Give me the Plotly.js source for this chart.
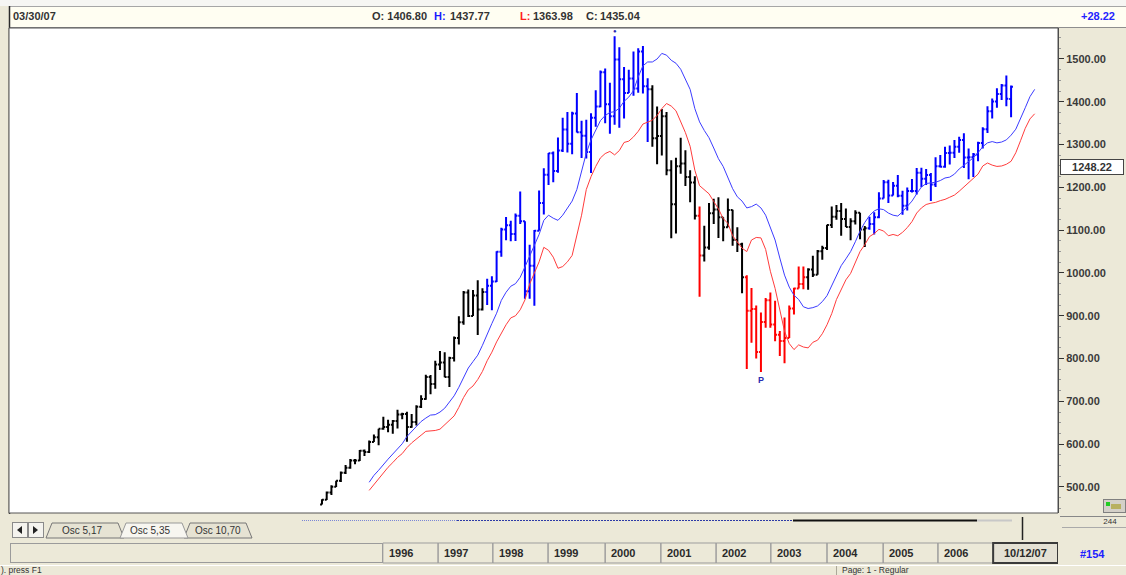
<!DOCTYPE html>
<html>
<head>
<meta charset="utf-8">
<script src="https://cdn.plot.ly/plotly-3.0.1.min.js"></script>
<style>
html,body{margin:0;padding:0;background:#ECE9D8;overflow:hidden;}
#wrap{position:relative;width:1126px;height:575px;overflow:hidden;background:#ECE9D8;}
#chrome{position:absolute;left:0;top:0;z-index:1;}
#chart{position:absolute;left:0;top:0;width:1126px;height:575px;z-index:2;}
</style>
</head>
<body>
<div id="wrap">
<svg id="chrome" width="1126" height="575" font-family="Liberation Sans, Arial, sans-serif">
  <rect x="0" y="0" width="1126" height="6" fill="#F6F6F3"/>
  <rect x="9" y="6" width="1117" height="21" fill="#FFFEF2"/>
  <line x1="9" y1="6.5" x2="1126" y2="6.5" stroke="#A6A6A6"/>
  <line x1="9" y1="27.5" x2="1126" y2="27.5" stroke="#8E8E8E"/>
  <line x1="9.5" y1="6" x2="9.5" y2="514" stroke="#2b2b2b" stroke-width="1.5"/>
  <g font-size="11" font-weight="bold" fill="#333">
    <text x="13" y="20">03/30/07</text>
    <text id="hO" x="372" y="20">O: </text>
    <text x="434" y="20" fill="#1a1aff">H:</text>
    <text id="hH" x="450" y="20"></text>
    <text x="520" y="20" fill="#ff2020">L:</text>
    <text id="hL" x="533" y="20"></text>
    <text x="586" y="20">C:</text>
    <text id="hC" x="600" y="20"></text>
    <text id="hD" x="1081" y="20" fill="#2424ff"></text>
  </g>
  <!-- tab row -->
  <rect x="9" y="516" width="1051" height="26" fill="#ECE9D8"/>
  <line x1="302" y1="520.5" x2="457" y2="520.5" stroke="#7a86d6" stroke-dasharray="1 1"/>
  <line x1="457" y1="520.5" x2="793" y2="520.5" stroke="#2c3aa6" stroke-dasharray="2 1"/>
  <line x1="793" y1="520.5" x2="977" y2="520.5" stroke="#111" stroke-width="2"/>
  <line x1="977" y1="520.5" x2="1012" y2="520.5" stroke="#c8c8c8" stroke-width="2"/>
  <line x1="1022.5" y1="517" x2="1022.5" y2="540" stroke="#222" stroke-width="1.5"/>
  <rect x="12.5" y="522.5" width="15" height="15" fill="#F4F3EE" stroke="#8a8a8a"/>
  <path d="M22 526 L17 530 L22 534 Z" fill="#222"/>
  <rect x="28.5" y="522.5" width="15" height="15" fill="#F4F3EE" stroke="#8a8a8a"/>
  <path d="M33 526 L38 530 L33 534 Z" fill="#222"/>
  <polygon points="46,538 52,523 118,523 124,538" fill="#E6E3D3" stroke="#777"/>
  <polygon points="184,538 190,523 246,523 252,538" fill="#E6E3D3" stroke="#777"/>
  <polygon points="120,538 126,523 182,523 188,538" fill="#F7F6F0" stroke="#999"/>
  <g font-size="10" fill="#333">
    <text x="62" y="534">Osc 5,17</text>
    <text x="130" y="534">Osc 5,35</text>
    <text x="195" y="534">Osc 10,70</text>
  </g>
  <line x1="1060" y1="516.5" x2="1126" y2="516.5" stroke="#888"/>
  <text x="1110" y="524" font-size="8" fill="#333" text-anchor="middle">244</text>
  <line x1="1062" y1="527.5" x2="1126" y2="527.5" stroke="#aaa"/>
  <!-- date row -->
  <rect x="10.5" y="543.5" width="372" height="19" fill="none" stroke="#9b9b9b"/>
  <text x="1080" y="558" fill="#2020ff" font-weight="bold" font-size="11">#154</text>
  <!-- status bar -->
  <line x1="0" y1="565.5" x2="1126" y2="565.5" stroke="#FFFFFF"/>
  <text x="1" y="573" font-size="8.5" fill="#333">). press F1</text>
  <line x1="836.5" y1="566" x2="836.5" y2="575" stroke="#aca899"/>
  <text x="842" y="573" font-size="8.5" fill="#333">Page: 1 - Regular</text>
  <!-- small icon -->
  <rect x="1103.5" y="499.5" width="22" height="13" fill="#D4D0C8" stroke="#808080"/>
  <rect x="1106" y="502" width="4" height="4" fill="#22cc22"/>
  <rect x="1111" y="504" width="10" height="5" fill="#b8b060"/>
</svg>
<div id="chart"></div>
</div>
<script>
// S&P 500 monthly bars, Jan 1995 .. Mar 2007
const firstYear = 1995;
const openP = [
459.27,470.42,487.39,500.71,514.71,533.40,544.75,562.06,561.88,584.41,581.50,605.37,
615.93,636.02,640.43,645.50,654.17,669.12,670.63,639.95,651.99,687.31,705.27,757.02,
740.74,786.16,790.82,757.12,801.34,848.28,885.14,954.29,899.47,947.28,914.62,955.40,
970.43,980.28,1049.34,1101.75,1111.75,1090.82,1133.84,1120.67,957.28,1017.01,1098.67,1163.63,
1229.23,1279.64,1238.33,1286.37,1335.18,1301.84,1372.71,1328.72,1320.41,1282.71,1362.93,1388.91,
1469.25,1394.46,1366.42,1498.58,1452.43,1420.60,1454.60,1430.83,1517.68,1436.51,1429.40,1314.95,
1320.28,1366.01,1239.94,1160.33,1249.46,1255.82,1224.42,1211.23,1133.58,1040.94,1059.78,1139.45,
1148.08,1130.20,1106.73,1147.39,1076.92,1067.14,989.82,911.62,916.07,815.28,885.76,936.31,
879.82,855.70,841.15,848.18,916.92,963.59,974.50,990.31,1008.01,995.97,1050.71,1058.20,
1111.92,1131.13,1144.94,1126.21,1107.30,1120.68,1140.84,1101.72,1104.24,1114.58,1130.20,1173.82,
1211.92,1181.27,1203.60,1180.59,1156.85,1191.50,1191.33,1234.18,1220.33,1228.81,1207.01,1249.48,
1248.29,1280.08,1280.66,1294.83,1310.61,1270.09,1270.20,1276.66,1303.82,1335.85,1377.94,1400.63,
1418.03,1437.90,1406.80];
const highP = [
471.36,489.19,503.90,514.54,535.96,551.07,565.39,565.36,586.60,587.83,608.39,622.88,
636.18,664.23,656.97,656.65,680.32,673.31,675.88,670.66,690.88,714.10,762.12,761.75,
794.67,817.68,814.90,804.13,851.87,898.70,957.73,961.63,960.46,983.12,964.55,986.25,
992.65,1050.66,1105.65,1130.52,1122.07,1138.98,1190.58,1121.01,1066.11,1100.56,1192.97,1244.93,
1280.37,1283.75,1316.55,1362.80,1375.98,1376.67,1420.33,1355.88,1357.86,1373.17,1427.08,1473.08,
1478.00,1444.55,1552.87,1527.19,1481.51,1474.63,1517.32,1525.21,1530.09,1454.82,1438.46,1389.06,
1383.37,1376.38,1263.47,1269.30,1315.93,1286.62,1239.78,1226.27,1155.40,1110.61,1163.38,1173.62,
1176.97,1130.20,1173.94,1147.84,1106.59,1070.74,994.46,965.00,924.02,907.44,941.82,954.28,
935.05,864.64,895.90,924.24,965.38,1015.33,1015.41,1011.01,1040.29,1053.79,1063.65,1112.56,
1155.38,1158.98,1163.23,1150.57,1127.74,1146.34,1140.84,1109.68,1131.54,1142.05,1188.46,1217.33,
1217.80,1212.44,1229.11,1191.88,1199.56,1219.59,1245.15,1245.86,1243.13,1233.34,1270.64,1275.80,
1294.90,1297.57,1310.88,1318.16,1326.70,1290.68,1280.42,1306.74,1340.28,1389.45,1407.89,1431.81,
1441.61,1461.57,1437.77];
const lowP = [
459.27,469.29,481.46,500.20,511.85,530.51,542.51,553.35,560.85,572.65,579.38,605.05,
597.29,633.71,627.63,624.13,636.62,658.32,605.88,638.51,643.54,684.44,703.77,716.69,
729.55,773.43,756.13,733.54,793.21,833.09,879.10,896.95,899.47,855.27,912.59,924.92,
912.83,979.13,1037.86,1076.70,1074.39,1074.67,1114.30,939.98,939.71,923.32,1098.67,1136.89,
1205.46,1211.89,1234.27,1282.48,1281.41,1277.41,1328.38,1268.68,1267.73,1233.66,1341.81,1387.38,
1350.14,1325.07,1346.62,1339.40,1361.09,1420.60,1413.89,1421.06,1419.44,1305.79,1294.90,1254.07,
1274.62,1228.33,1081.19,1091.99,1232.00,1203.03,1165.54,1124.87,944.75,1026.76,1054.31,1114.53,
1081.66,1074.36,1106.73,1063.46,1048.96,952.92,775.68,837.28,800.20,768.63,872.05,871.84,
840.34,806.29,788.90,847.85,902.83,963.59,962.10,960.84,990.36,995.97,1031.20,1053.41,
1105.08,1124.44,1087.16,1107.23,1076.32,1113.32,1078.78,1060.72,1101.29,1090.19,1127.60,1173.76,
1163.75,1180.95,1176.92,1136.15,1146.18,1188.30,1183.55,1201.07,1205.35,1168.20,1201.07,1246.59,
1245.74,1253.61,1268.42,1280.74,1245.34,1219.29,1224.54,1261.30,1290.93,1327.10,1360.98,1385.93,
1403.97,1389.42,1363.98];
const closeP = [
470.42,487.39,500.71,514.71,533.40,544.75,562.06,561.88,584.41,581.50,605.37,615.93,
636.02,640.43,645.50,654.17,669.12,670.63,639.95,651.99,687.31,705.27,757.02,740.74,
786.16,790.82,757.12,801.34,848.28,885.14,954.29,899.47,947.28,914.62,955.40,970.43,
980.28,1049.34,1101.75,1111.75,1090.82,1133.84,1120.67,957.28,1017.01,1098.67,1163.63,1229.23,
1279.64,1238.33,1286.37,1335.18,1301.84,1372.71,1328.72,1320.41,1282.71,1362.93,1388.91,1469.25,
1394.46,1366.42,1498.58,1452.43,1420.60,1454.60,1430.83,1517.68,1436.51,1429.40,1314.95,1320.28,
1366.01,1239.94,1160.33,1249.46,1255.82,1224.42,1211.23,1133.58,1040.94,1059.78,1139.45,1148.08,
1130.20,1106.73,1147.39,1076.92,1067.14,989.82,911.62,916.07,815.28,885.76,936.31,879.82,
855.70,841.15,848.18,916.92,963.59,974.50,990.31,1008.01,995.97,1050.71,1058.20,1111.92,
1131.13,1144.94,1126.21,1107.30,1120.68,1140.84,1101.72,1104.24,1114.58,1130.20,1173.82,1211.92,
1181.27,1203.60,1180.59,1156.85,1191.50,1191.33,1234.18,1220.33,1228.81,1207.01,1249.48,1248.29,
1280.08,1280.66,1294.83,1310.61,1270.09,1270.20,1276.66,1303.82,1335.85,1377.94,1400.63,1418.30,
1438.24,1406.82,1435.04];
// bar colour state, as runs of consecutive bars (K black, B blue, R red)
const colorRuns = [['K',35],['B',35],['K',10],['R',1],['K',9],['R',13],['K',13],['B',31]];
// signal markers: peak dot (bar index) and "P" pivot under the 2002 low (bar index)
const peakMarkBar = 62;
const pivotMarkBar = 93;
// upper (blue) and lower (red) channel lines; first point at bar 10
const channelStart = 10;
const upperLine = [
511,527,539,553,565,577,589,601,618,629,
641,653,661,668,669,675,684,698,713,733,
757,778,793,808,831,858,882,906,936,955,
969,975,990,1014,1039,1065,1090,1123,1135,1128,
1123,1135,1153,1168,1195,1237,1280,1311,1333,1356,
1368,1375,1377,1385,1401,1411,1426,1458,1484,1493,
1493,1500,1513,1509,1497,1490,1476,1453,1429,1384,
1353,1333,1316,1292,1267,1249,1223,1197,1178,1168,
1152,1155,1161,1152,1135,1104,1077,1035,995,967,
948,938,921,917,919,923,933,947,971,995,
1017,1033,1050,1073,1098,1118,1134,1145,1150,1148,
1140,1135,1133,1143,1155,1168,1185,1201,1209,1211,
1212,1216,1222,1224,1231,1243,1252,1261,1269,1281,
1295,1304,1307,1304,1306,1311,1322,1336,1359,1386,
1412,1429];
const lowerLine = [
492,506,520,533,546,557,569,578,592,603,
611,621,630,631,632,635,645,656,666,686,
709,727,736,751,770,795,815,839,859,879,
895,900,914,937,974,1001,1026,1060,1053,1037,
1011,1015,1026,1041,1086,1135,1195,1225,1249,1269,
1279,1284,1276,1286,1305,1308,1318,1331,1348,1352,
1357,1368,1384,1396,1390,1379,1352,1328,1296,1240,
1204,1194,1185,1167,1150,1127,1116,1087,1072,1058,
1050,1077,1083,1082,1055,1004,964,913,864,835,
821,832,827,825,838,843,858,879,905,938,
963,984,999,1023,1050,1066,1085,1092,1102,1098,
1087,1090,1087,1095,1106,1120,1140,1152,1160,1163,
1165,1169,1172,1177,1182,1191,1201,1211,1220,1231,
1250,1257,1252,1249,1250,1254,1261,1281,1309,1338,
1360,1372];
// date-axis labels and their positions (bar index)
const yearLabels = ['1996','1997','1998','1999','2000','2001','2002','2003','2004','2005','2006','10/12/07'];
const yearLabelPos = [12.9,24.6,36.2,47.9,60.0,71.8,83.5,95.1,107.0,118.9,130.5,142.2];
const priceTicks = [500,600,700,800,900,1000,1100,1200,1300,1400,1500];
const markerLevel = 1248.22;

// header texts from the last bar
const n = closeP.length;
document.getElementById('hO').textContent = 'O: ' + openP[n-1].toFixed(2);
document.getElementById('hH').textContent = highP[n-1].toFixed(2);
document.getElementById('hL').textContent = lowP[n-1].toFixed(2);
document.getElementById('hC').textContent = closeP[n-1].toFixed(2);
const chg = closeP[n-1] - closeP[n-2];
document.getElementById('hD').textContent = (chg >= 0 ? '+' : '') + chg.toFixed(2);

const idx = closeP.map((_, i) => i);
const state = [];
colorRuns.forEach(([c, k]) => { for (let i = 0; i < k; i++) state.push(c); });
const colorMap = {K: '#000000', B: '#0000FF', R: '#FF0000'};
const traces = [];
['K', 'B', 'R'].forEach(c => {
  const ids = idx.filter(i => state[i] === c);
  traces.push({
    type: 'ohlc', x: ids,
    open: ids.map(i => openP[i]), high: ids.map(i => highP[i]),
    low: ids.map(i => lowP[i]), close: ids.map(i => closeP[i]),
    increasing: {line: {color: colorMap[c], width: 2}},
    decreasing: {line: {color: colorMap[c], width: 2}},
    tickwidth: 0.4, hoverinfo: 'skip', showlegend: false
  });
});
const chX = upperLine.map((_, i) => i + channelStart);
traces.push({type: 'scatter', mode: 'lines', x: chX, y: upperLine,
  line: {color: '#3c3cff', width: 1}, hoverinfo: 'skip', showlegend: false});
traces.push({type: 'scatter', mode: 'lines', x: chX, y: lowerLine,
  line: {color: '#ff3c3c', width: 1}, hoverinfo: 'skip', showlegend: false});

const xRange = [-66.31, 155.94];
const yB0 = -0.10309, yB1 = -0.06186;
const shapes = [
  {type: 'rect', xref: 'paper', yref: 'paper', x0: 0, x1: 1, y0: 0, y1: 1,
   line: {color: '#555', width: 1}, fillcolor: 'rgba(0,0,0,0)', layer: 'above'}
];
const annotations = [];
yearLabels.forEach((lab, i) => {
  const last = i === yearLabels.length - 1;
  const x1 = last ? xRange[1] : yearLabelPos[i + 1];
  shapes.push({type: 'rect', xref: 'x', yref: 'paper', x0: yearLabelPos[i], x1: x1,
    y0: yB0, y1: yB1, line: {color: last ? '#3a3a3a' : '#9d9d9d', width: last ? 2 : 1},
    fillcolor: last ? '#E4E1D4' : 'rgba(0,0,0,0)'});
  annotations.push({xref: 'x', yref: 'paper',
    x: last ? (yearLabelPos[i] + x1) / 2 : yearLabelPos[i],
    xanchor: last ? 'center' : 'left', xshift: last ? 0 : 4,
    y: (yB0 + yB1) / 2, yanchor: 'middle', showarrow: false, text: lab,
    font: {family: 'Liberation Sans, Arial, sans-serif', size: 11, color: '#2a2a2a', weight: 'bold'}});
});
annotations.push({x: peakMarkBar, y: highP[peakMarkBar], xref: 'x', yref: 'y', text: '●', showarrow: false,
  yanchor: 'bottom', yshift: -1, font: {size: 6, color: '#2a2ab0'}});
annotations.push({x: pivotMarkBar, y: lowP[pivotMarkBar], xref: 'x', yref: 'y', text: 'P', showarrow: false,
  yanchor: 'top', yshift: -1, font: {family: 'Liberation Sans, Arial, sans-serif', size: 9, color: '#2a2ab0', weight: 'bold'}});
annotations.push({xref: 'paper', yref: 'y', x: 1, xanchor: 'left', xshift: 2, y: markerLevel,
  yanchor: 'middle', text: markerLevel.toFixed(2), showarrow: false, width: 60, align: 'center',
  bgcolor: '#FFFFFF', bordercolor: '#444', borderwidth: 1, borderpad: 1,
  font: {family: 'Liberation Sans, Arial, sans-serif', size: 11, color: '#333', weight: 'bold'}});

const layout = {
  width: 1126, height: 575,
  margin: {l: 9, r: 68, t: 28, b: 62, pad: 0},
  paper_bgcolor: 'rgba(0,0,0,0)', plot_bgcolor: '#FFFFFF',
  showlegend: false,
  xaxis: {range: xRange, showgrid: false, zeroline: false, showticklabels: false,
    ticks: '', showline: false, rangeslider: {visible: false}, fixedrange: true},
  yaxis: {side: 'right', range: [439.2, 1572.4], tickmode: 'array', tickvals: priceTicks,
    ticktext: priceTicks.map(v => v.toFixed(2)),
    ticks: 'outside', ticklen: 5, tickwidth: 1, tickcolor: '#333',
    showline: true, linecolor: '#444', linewidth: 1, showgrid: false, zeroline: false,
    tickfont: {family: 'Liberation Sans, Arial, sans-serif', size: 11, color: '#3a3a3a', weight: 'bold'},
    minor: {dtick: 25, tick0: 0, ticks: 'outside', ticklen: 2, tickcolor: '#999', showgrid: false},
    fixedrange: true},
  shapes: shapes,
  annotations: annotations
};
Plotly.newPlot('chart', traces, layout, {staticPlot: true, displayModeBar: false});
</script>
</body>
</html>
